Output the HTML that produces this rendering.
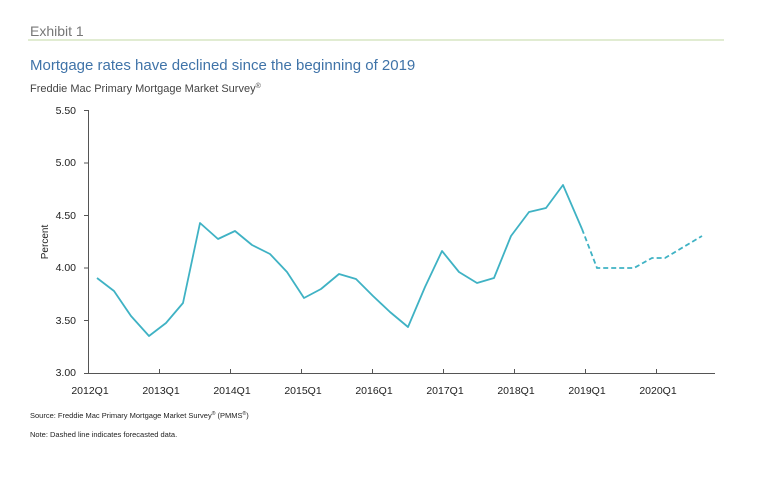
<!DOCTYPE html>
<html><head><style>
body{margin:0;background:#fff;width:768px;height:473px;overflow:hidden;font-family:"Liberation Sans",Arial,sans-serif;}
</style></head><body>
<svg width="768" height="473" xmlns="http://www.w3.org/2000/svg" font-family="Liberation Sans, Arial, sans-serif">
<text x="30" y="36" font-size="14" fill="#777">Exhibit 1</text>
<line x1="28" y1="40" x2="724" y2="40" stroke="#cfe0b8" stroke-width="1.2"/>
<text x="30" y="70" font-size="15" fill="#3f73a8">Mortgage rates have declined since the beginning of 2019</text>
<text x="30" y="92" font-size="11" fill="#444">Freddie Mac Primary Mortgage Market Survey<tspan font-size="7" dy="-4">®</tspan></text>
<g font-size="10.5" fill="#222" text-anchor="end">
<text x="76" y="114">5.50</text><text x="76" y="166">5.00</text><text x="76" y="219">4.50</text>
<text x="76" y="271">4.00</text><text x="76" y="324">3.50</text><text x="76" y="376">3.00</text>
</g>
<text transform="translate(48,242) rotate(-90)" font-size="10" fill="#222" text-anchor="middle">Percent</text>
<g stroke="#555" stroke-width="1">
<line x1="88.5" y1="110" x2="88.5" y2="373"/>
<line x1="84" y1="110.5" x2="88" y2="110.5"/><line x1="84" y1="163" x2="88" y2="163"/>
<line x1="84" y1="215.5" x2="88" y2="215.5"/><line x1="84" y1="268" x2="88" y2="268"/>
<line x1="84" y1="320.5" x2="88" y2="320.5"/>
<line x1="84" y1="373.5" x2="715" y2="373.5"/>
<line x1="159.5" y1="369" x2="159.5" y2="373"/><line x1="230.5" y1="369" x2="230.5" y2="373"/>
<line x1="301.5" y1="369" x2="301.5" y2="373"/><line x1="372.5" y1="369" x2="372.5" y2="373"/>
<line x1="443.5" y1="369" x2="443.5" y2="373"/><line x1="514.5" y1="369" x2="514.5" y2="373"/>
<line x1="585.5" y1="369" x2="585.5" y2="373"/><line x1="656.5" y1="369" x2="656.5" y2="373"/>
</g>
<g font-size="10.5" fill="#222" text-anchor="middle">
<text x="90" y="394">2012Q1</text><text x="161" y="394">2013Q1</text><text x="232" y="394">2014Q1</text>
<text x="303" y="394">2015Q1</text><text x="374" y="394">2016Q1</text><text x="445" y="394">2017Q1</text>
<text x="516" y="394">2018Q1</text><text x="587" y="394">2019Q1</text><text x="658" y="394">2020Q1</text>
</g>
<polyline fill="none" stroke="#3fb2c4" stroke-width="1.8" stroke-linejoin="round" points="97,278 114,291 131,316 149,336 166,323 183,303 200,223 218,239 235,231 252,245 270,254 287,272 304,298 321,289 339,274 356,279 373,296 390,312 408,327 425,287 442,251 459,272 477,283 494,278 511,236 529,212 546,208 563,185 582,229"/>
<polyline fill="none" stroke="#3fb2c4" stroke-width="1.8" stroke-dasharray="5,3" points="582,229 597,268 614,268 634,268 652,258 665,258 702,236"/>
<text x="30" y="418" font-size="7.5" fill="#222">Source: Freddie Mac Primary Mortgage Market Survey<tspan font-size="5" dy="-3">®</tspan><tspan dy="3"> (PMMS</tspan><tspan font-size="5" dy="-3">®</tspan><tspan dy="3">)</tspan></text>
<text x="30" y="437" font-size="7.5" fill="#222">Note: Dashed line indicates forecasted data.</text>
</svg>
</body></html>
